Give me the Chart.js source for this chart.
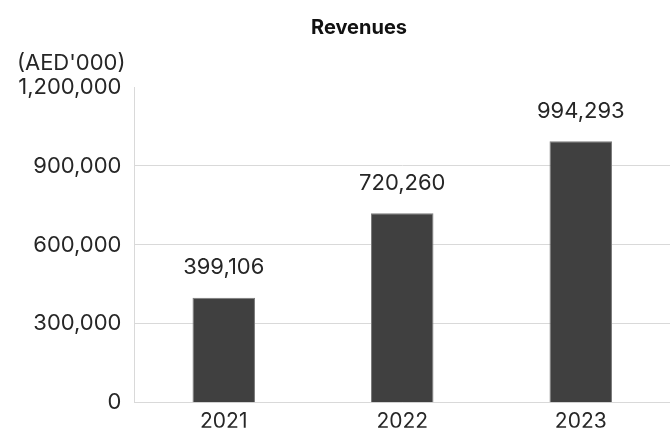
<!DOCTYPE html>
<html>
<head>
<meta charset="utf-8">
<script src="https://cdn.jsdelivr.net/npm/chart.js@4/dist/chart.umd.min.js"></script>
<style>
  html, body { margin: 0; padding: 0; background: #fff; }
  #wrap { width: 670px; height: 429px; }
</style>
</head>
<body>
<div id="wrap"><canvas id="chart"></canvas></div>
<script>
// chart data
const years = ['2021', '2022', '2023'];
const revenues = [399106, 720260, 994293];
const yTicks = [0, 300000, 600000, 900000, 1200000];
const chartTitle = 'Revenues';
const unitLabel = "(AED'000)";

const FONT = 'Inter, "Liberation Sans", Arial, sans-serif';
const fmt = (v) => v.toLocaleString('en-US');

// title, value labels above bars, unit label over the y axis
const labelsPlugin = {
  id: 'labels',
  afterDatasetsDraw(chart) {
    const ctx = chart.ctx;
    const area = chart.chartArea;
    const meta = chart.getDatasetMeta(0);
    ctx.save();
    ctx.font = '22px ' + FONT;
    ctx.fillStyle = '#262626';
    ctx.textAlign = 'center';
    ctx.textBaseline = 'middle';
    meta.data.forEach((bar, i) => {
      ctx.fillText(fmt(revenues[i]), bar.x, bar.y - 30);
    });
    ctx.textAlign = 'right';
    ctx.fillText(unitLabel, chart.scales.y.right - 9, area.top - 24);

    // title sits a bit right of the canvas centre in the original
    ctx.font = 'bold 20px ' + FONT;
    ctx.fillStyle = '#111';
    ctx.textAlign = 'center';
    ctx.fillText(chartTitle, chart.width / 2 + 24, area.top - 59);
    ctx.restore();
  }
};

new Chart(document.getElementById('chart'), {
  type: 'bar',
  data: {
    labels: years,
    datasets: [{
      data: revenues,
      backgroundColor: '#404040',
      borderColor: '#7a7a7a',
      borderWidth: 1,
      barPercentage: 0.35,
      categoryPercentage: 1
    }]
  },
  options: {
    responsive: true,
    maintainAspectRatio: false,
    animation: false,
    layout: { padding: { left: 0, right: 0, top: 87, bottom: 0 } },
    plugins: {
      legend: { display: false },
      tooltip: { enabled: false },
      title: { display: false }
    },
    scales: {
      x: {
        grid: { display: false, drawTicks: false },
        border: { color: '#d9d9d9' },
        ticks: { color: '#262626', font: { family: FONT, size: 21 }, padding: 6 },
        afterFit(scale) { scale.height = 25; }
      },
      y: {
        min: 0,
        max: 1200000,
        afterBuildTicks(scale) { scale.ticks = yTicks.map(v => ({ value: v })); },
        grid: {
          drawTicks: false,
          color: (c) => (c.tick && c.tick.value === 1200000) ? 'rgba(0,0,0,0)' : '#d9d9d9'
        },
        border: { color: '#d9d9d9' },
        ticks: {
          color: '#262626',
          font: { family: FONT, size: 22 },
          padding: 13,
          callback: (v) => fmt(v)
        },
        afterFit(scale) { scale.width = 134.5; }
      }
    }
  },
  plugins: [labelsPlugin]
});
</script>
</body>
</html>
